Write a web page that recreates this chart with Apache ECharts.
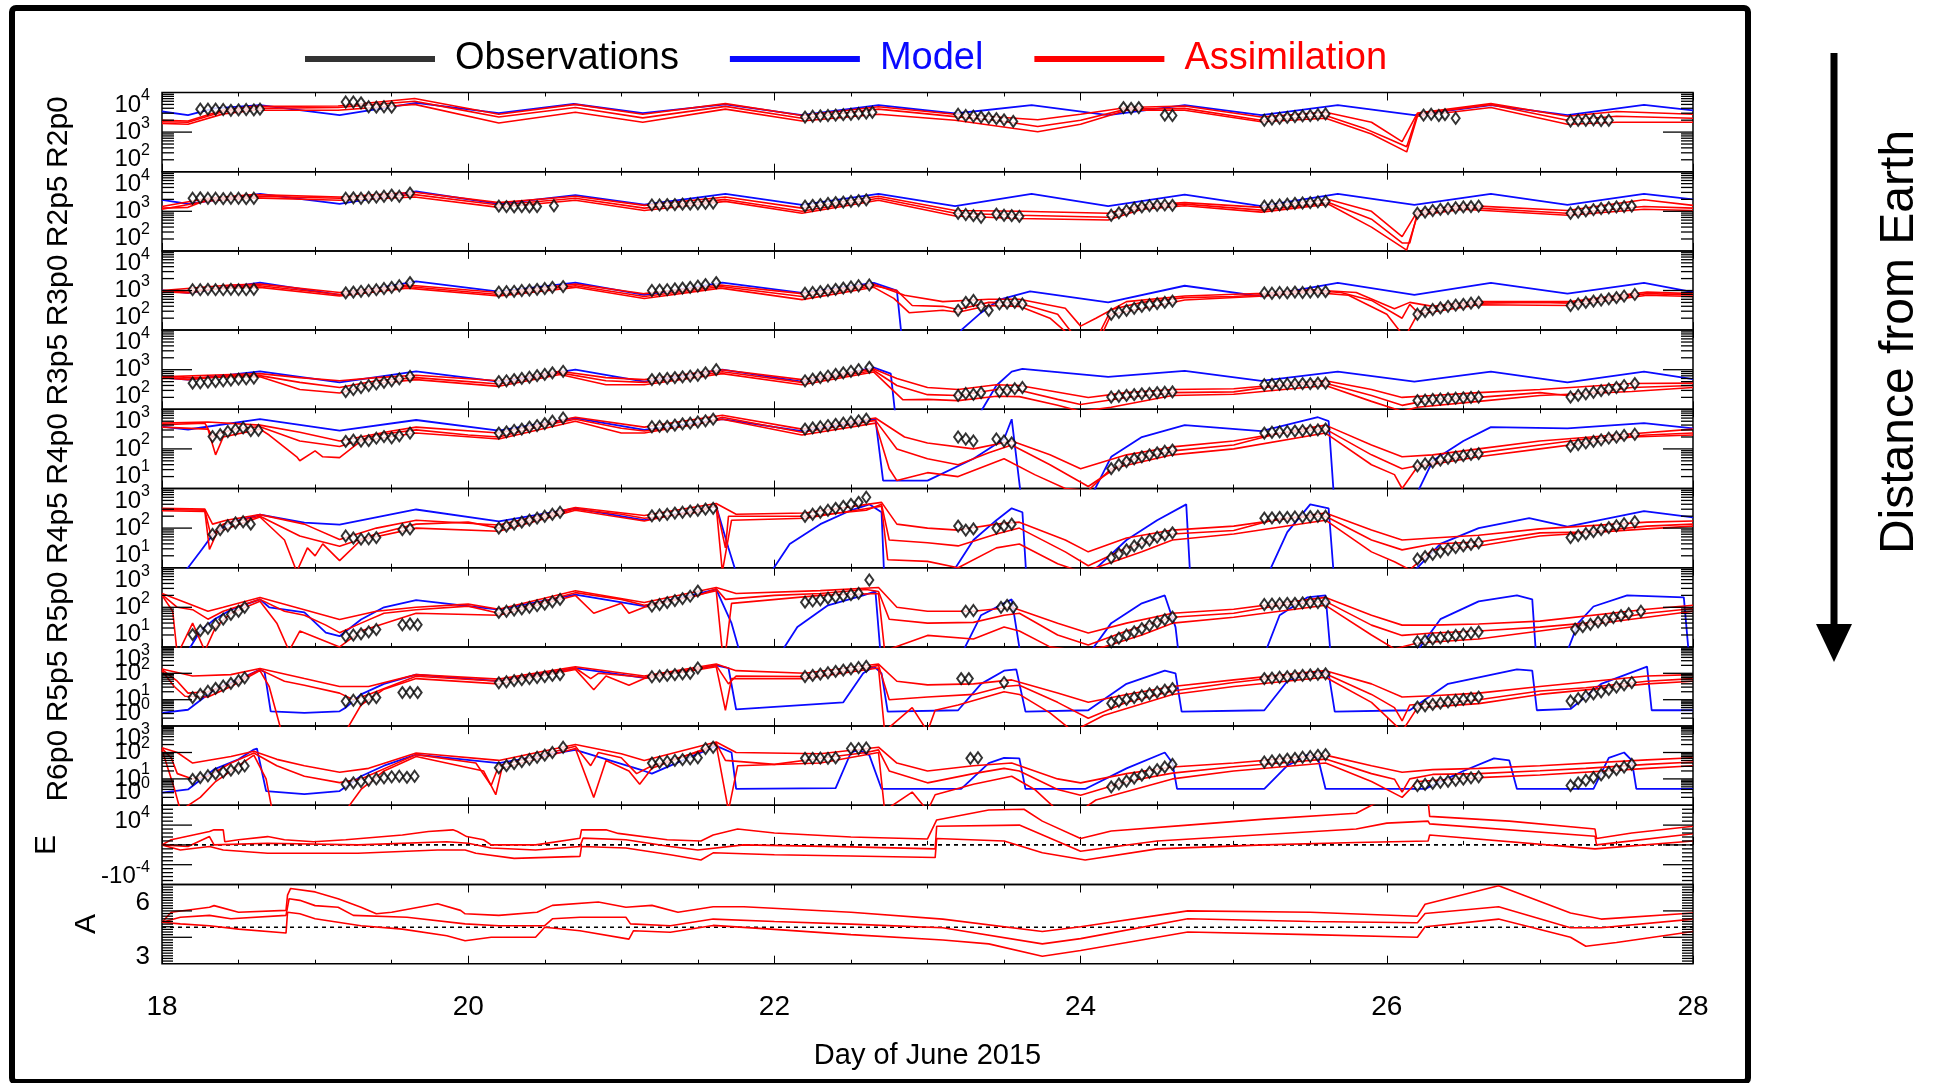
<!DOCTYPE html>
<html>
<head>
<meta charset="utf-8">
<title>Observations / Model / Assimilation</title>
<script src="https://cdn.jsdelivr.net/npm/echarts/dist/echarts.min.js"></script>
<style>
  html, body { margin: 0; padding: 0; background: #fff; }
  #chart { width: 1934px; height: 1083px; }
</style>
</head>
<body>
<div id="chart"></div>
<script>
// time axis (day of June 2015)
const dayMin = 18, dayMax = 28;

// flux panels: values are log10 of the flux
const R2p0_model = [[18,3.52],[18.17,3.43],[18.34,3.6],[18.64,3.68],[19.16,3.43],[19.66,3.74],[20.2,3.48],[20.69,3.71],[21.14,3.48],[21.68,3.7],[22.18,3.43],[22.68,3.68],[23.18,3.47],[23.68,3.68],[24.18,3.43],[24.68,3.68],[25.18,3.43],[25.68,3.68],[26.18,3.43],[26.68,3.68],[27.18,3.43],[27.68,3.69],[28,3.55]];
const R2p0_mid = [[18,3.26],[18.17,3.25],[18.4,3.52],[18.6,3.6],[19.15,3.62],[19.4,3.7],[19.65,3.78],[19.9,3.6],[20.2,3.38],[20.7,3.62],[21.14,3.36],[21.68,3.65],[22.18,3.35],[22.68,3.58],[23.18,3.39],[23.45,3.3],[23.72,3.14],[24.0,3.3],[24.3,3.58],[24.68,3.6],[25.18,3.3],[25.6,3.42],[25.85,3.1],[26.0,2.85],[26.13,2.63],[26.2,3.45],[26.68,3.69],[27.18,3.3],[27.5,3.4],[28,3.35]];
const R2p0_hi = [[18,3.3],[18.17,3.28],[18.4,3.56],[18.6,3.65],[19.15,3.66],[19.65,3.85],[20.2,3.45],[20.7,3.7],[21.14,3.45],[21.68,3.72],[22.18,3.42],[22.68,3.64],[23.18,3.45],[23.72,3.31],[24.0,3.45],[24.3,3.62],[24.68,3.66],[25.18,3.38],[25.6,3.5],[25.9,3.25],[26.1,2.76],[26.2,3.48],[26.68,3.72],[27.18,3.4],[27.5,3.52],[28,3.45]];
const R2p0_lo = [[18,3.22],[18.17,3.2],[18.4,3.46],[18.6,3.55],[19.15,3.55],[19.65,3.7],[20.2,3.23],[20.7,3.5],[21.14,3.25],[21.68,3.58],[22.18,3.28],[22.68,3.45],[23.18,3.3],[23.72,3.01],[24.0,3.2],[24.3,3.55],[24.68,3.55],[25.18,3.26],[25.6,3.35],[25.9,2.95],[26.13,2.5],[26.2,3.4],[26.68,3.62],[27.18,3.2],[27.5,3.25],[28,3.25]];
const R2p0_obs = [[18.25,3.58],[18.3,3.58],[18.35,3.58],[18.4,3.57],[18.45,3.55],[18.5,3.56],[18.55,3.57],[18.6,3.56],[18.64,3.58],
  [19.2,3.76],[19.25,3.76],[19.3,3.74],[19.35,3.64],[19.4,3.63],[19.45,3.64],[19.5,3.63],
  [22.2,3.38],[22.25,3.4],[22.3,3.41],[22.35,3.42],[22.4,3.43],[22.45,3.44],[22.5,3.45],[22.55,3.47],[22.6,3.48],[22.64,3.5],
  [23.2,3.45],[23.25,3.42],[23.3,3.4],[23.35,3.38],[23.4,3.36],[23.45,3.34],[23.5,3.31],[23.56,3.27],
  [24.28,3.62],[24.33,3.6],[24.38,3.62],[24.55,3.43],[24.6,3.42],
  [25.2,3.3],[25.25,3.33],[25.3,3.35],[25.35,3.37],[25.4,3.39],[25.45,3.41],[25.5,3.42],[25.55,3.44],[25.6,3.46],
  [26.24,3.43],[26.29,3.45],[26.34,3.42],[26.38,3.44],[26.45,3.35],
  [27.2,3.28],[27.25,3.3],[27.3,3.3],[27.35,3.31],[27.4,3.29],[27.45,3.3]];

const R2p5_model = [[18,3.29],[18.17,3.19],[18.64,3.44],[19.16,3.19],[19.66,3.5],[20.2,3.19],[20.7,3.41],[21.15,3.17],[21.68,3.44],[22.18,3.16],[22.68,3.44],[23.18,3.13],[23.68,3.44],[24.18,3.13],[24.68,3.42],[25.18,3.13],[25.68,3.44],[26.18,3.16],[26.68,3.44],[27.18,3.16],[27.68,3.44],[28,3.3]];
const R2p5_mid = [[18,3.08],[18.17,3.1],[18.3,3.3],[18.6,3.38],[19.16,3.33],[19.65,3.42],[20.2,3.16],[20.7,3.33],[21.15,3.08],[21.68,3.3],[22.18,3.0],[22.68,3.33],[23.18,2.95],[23.6,2.9],[24.18,2.85],[24.4,3.1],[24.68,3.18],[25.18,3.03],[25.62,3.22],[25.9,2.8],[26.1,2.2],[26.15,2.2],[26.2,2.95],[26.5,3.1],[27.18,2.95],[27.68,3.12],[28,3.08]];
const R2p5_hi = [[18,3.12],[18.3,3.33],[18.6,3.42],[19.16,3.36],[19.65,3.48],[20.2,3.22],[20.7,3.38],[21.15,3.15],[21.68,3.36],[22.18,3.08],[22.68,3.38],[23.18,3.02],[23.6,3.0],[24.18,2.95],[24.4,3.15],[24.68,3.22],[25.18,3.1],[25.62,3.3],[25.9,3.0],[26.1,2.36],[26.2,3.0],[26.5,3.15],[27.18,3.02],[27.68,3.29],[28,3.15]];
const R2p5_lo = [[18,3.05],[18.3,3.26],[18.6,3.34],[19.16,3.28],[19.65,3.36],[20.2,3.1],[20.7,3.28],[21.15,3.02],[21.68,3.25],[22.18,2.95],[22.68,3.28],[23.18,2.88],[23.6,2.82],[24.18,2.78],[24.4,3.05],[24.68,3.14],[25.18,2.98],[25.62,3.18],[25.9,2.6],[26.13,2.02],[26.2,2.9],[26.5,3.05],[27.18,2.9],[27.68,3.05],[28,3.02]];
const R2p5_obs = [[18.2,3.33],[18.25,3.34],[18.3,3.33],[18.35,3.33],[18.4,3.32],[18.45,3.33],[18.5,3.33],[18.55,3.32],[18.6,3.33],
  [19.2,3.33],[19.25,3.34],[19.3,3.33],[19.35,3.35],[19.4,3.36],[19.45,3.38],[19.5,3.41],[19.55,3.38],[19.62,3.46],
  [20.2,3.13],[20.25,3.12],[20.3,3.11],[20.35,3.12],[20.4,3.11],[20.45,3.12],[20.56,3.14],
  [21.2,3.16],[21.25,3.16],[21.3,3.17],[21.35,3.17],[21.4,3.18],[21.45,3.18],[21.5,3.19],[21.55,3.2],[21.6,3.21],
  [22.2,3.13],[22.25,3.15],[22.3,3.17],[22.35,3.2],[22.4,3.22],[22.45,3.23],[22.5,3.25],[22.55,3.27],[22.6,3.29],
  [23.2,2.95],[23.25,2.92],[23.3,2.89],[23.35,2.85],[23.45,2.93],[23.5,2.9],[23.55,2.89],[23.6,2.87],
  [24.2,2.9],[24.25,2.96],[24.3,3.02],[24.35,3.08],[24.4,3.11],[24.45,3.14],[24.5,3.15],[24.55,3.16],[24.6,3.15],
  [25.2,3.13],[25.25,3.14],[25.3,3.16],[25.35,3.18],[25.4,3.2],[25.45,3.21],[25.5,3.22],[25.55,3.24],[25.6,3.25],
  [26.2,2.95],[26.25,2.98],[26.3,3.02],[26.35,3.05],[26.4,3.07],[26.45,3.09],[26.5,3.11],[26.55,3.12],[26.6,3.13],
  [27.2,2.95],[27.25,2.98],[27.3,3.01],[27.35,3.04],[27.4,3.07],[27.45,3.09],[27.5,3.11],[27.55,3.12],[27.6,3.13]];

const R3p0_model = [[18,3.0],[18.17,2.94],[18.64,3.2],[19.16,2.89],[19.66,3.23],[20.2,2.97],[20.7,3.2],[21.15,2.89],[21.66,3.2],[22.18,2.94],[22.65,3.19],[22.8,3.0],[22.84,1.5],[23.2,1.5],[23.22,2.0],[23.35,2.44],[23.47,2.77],[23.67,2.98],[24.18,2.7],[24.68,3.12],[25.18,2.85],[25.68,3.19],[26.18,2.89],[26.68,3.19],[27.18,2.92],[27.68,3.19],[28,2.96]];
const R3p0_mid = [[18,2.97],[18.17,2.94],[18.45,3.1],[18.64,3.12],[19.16,2.9],[19.6,3.1],[20.2,2.9],[20.7,3.12],[21.15,2.85],[21.65,3.1],[22.18,2.85],[22.65,3.12],[22.8,3.0],[22.9,2.62],[23.1,2.6],[23.2,2.52],[23.4,2.7],[23.6,2.68],[23.85,2.4],[23.95,1.9],[24.12,1.9],[24.2,2.52],[24.4,2.7],[24.68,2.82],[25.0,2.85],[25.2,2.9],[25.5,3.0],[25.7,2.95],[25.9,2.75],[26.1,2.3],[26.15,2.65],[26.2,2.45],[26.3,2.55],[26.6,2.68],[27.0,2.7],[27.2,2.68],[27.5,2.82],[27.7,2.92],[28,2.89]];
const R3p0_hi = [[18,3.0],[18.45,3.14],[18.64,3.16],[19.16,2.95],[19.6,3.14],[20.2,2.95],[20.7,3.16],[21.15,2.92],[21.65,3.14],[22.18,2.92],[22.65,3.16],[22.85,2.88],[23.1,2.72],[23.4,2.78],[23.6,2.78],[23.9,2.55],[24.0,2.1],[24.1,2.3],[24.3,2.72],[24.68,2.86],[25.2,2.93],[25.5,3.02],[25.8,2.95],[26.05,2.54],[26.15,2.7],[26.3,2.6],[26.6,2.72],[27.2,2.72],[27.7,2.96],[28,2.92]];
const R3p0_lo = [[18,2.95],[18.45,3.06],[18.64,3.08],[19.16,2.86],[19.6,3.06],[20.2,2.86],[20.7,3.08],[21.15,2.8],[21.65,3.06],[22.18,2.77],[22.65,3.08],[22.78,2.8],[22.88,2.44],[23.1,2.5],[23.2,2.45],[23.4,2.62],[23.6,2.6],[23.8,2.3],[23.92,1.9],[24.14,1.9],[24.2,2.4],[24.5,2.62],[24.68,2.76],[25.2,2.86],[25.5,2.96],[25.75,2.88],[26.0,2.4],[26.1,1.9],[26.13,1.9],[26.2,2.4],[26.6,2.64],[27.2,2.62],[27.7,2.88],[28,2.85]];
const R3p0_obs = [[18.2,3.02],[18.25,3.02],[18.3,3.03],[18.35,3.02],[18.4,3.02],[18.45,3.03],[18.5,3.02],[18.55,3.02],[18.6,3.03],
  [19.2,2.94],[19.25,2.96],[19.3,2.98],[19.35,3.0],[19.4,3.02],[19.45,3.05],[19.5,3.08],[19.55,3.12],[19.62,3.2],
  [20.2,2.96],[20.25,2.97],[20.3,2.98],[20.35,3.0],[20.4,3.01],[20.45,3.03],[20.5,3.05],[20.55,3.08],[20.62,3.1],
  [21.2,3.0],[21.25,3.01],[21.3,3.02],[21.35,3.04],[21.4,3.06],[21.45,3.08],[21.5,3.11],[21.55,3.15],[21.62,3.2],
  [22.2,2.93],[22.25,2.95],[22.3,2.97],[22.35,3.0],[22.4,3.03],[22.45,3.06],[22.5,3.09],[22.55,3.12],[22.62,3.14],
  [23.2,2.5],[23.25,2.7],[23.3,2.75],[23.35,2.6],[23.4,2.5],[23.47,2.66],[23.52,2.68],[23.57,2.7],[23.62,2.66],
  [24.2,2.4],[24.25,2.45],[24.3,2.5],[24.35,2.55],[24.4,2.6],[24.45,2.64],[24.5,2.67],[24.55,2.7],[24.6,2.73],
  [25.2,2.94],[25.25,2.93],[25.3,2.95],[25.35,2.94],[25.4,2.96],[25.45,2.95],[25.5,2.96],[25.55,2.97],[25.6,2.97],
  [26.2,2.4],[26.25,2.47],[26.3,2.52],[26.35,2.56],[26.4,2.6],[26.45,2.63],[26.5,2.65],[26.55,2.68],[26.6,2.7],
  [27.2,2.62],[27.25,2.66],[27.3,2.7],[27.35,2.73],[27.4,2.76],[27.45,2.79],[27.5,2.82],[27.55,2.86],[27.62,2.9]];

const R3p5_model = [[18,2.8],[18.17,2.75],[18.64,2.96],[19.16,2.68],[19.66,2.96],[20.2,2.7],[20.7,3.0],[21.15,2.7],[21.66,3.0],[22.18,2.7],[22.65,3.05],[22.76,2.9],[22.8,1.5],[23.33,1.5],[23.35,1.95],[23.45,2.6],[23.55,2.95],[23.62,3.02],[24.18,2.82],[24.68,2.97],[25.18,2.72],[25.68,2.95],[26.18,2.7],[26.68,2.95],[27.18,2.68],[27.68,2.95],[28,2.76]];
const R3p5_mid = [[18,2.8],[18.17,2.75],[18.45,2.85],[18.64,2.85],[18.9,2.68],[19.16,2.55],[19.4,2.72],[19.66,2.8],[20.0,2.7],[20.2,2.64],[20.6,2.92],[20.9,2.72],[21.15,2.68],[21.4,2.8],[21.66,2.95],[22.18,2.68],[22.65,2.98],[22.8,2.6],[23.0,2.37],[23.2,2.35],[23.45,2.5],[23.6,2.48],[23.85,2.25],[24.0,2.12],[24.3,2.3],[24.6,2.42],[25.0,2.44],[25.3,2.6],[25.6,2.66],[25.9,2.35],[26.1,2.1],[26.3,2.25],[26.6,2.3],[27.0,2.42],[27.18,2.35],[27.6,2.55],[28,2.6]];
const R3p5_hi = [[18,2.82],[18.45,2.88],[18.64,2.9],[18.9,2.8],[19.16,2.72],[19.4,2.8],[19.66,2.86],[20.2,2.72],[20.6,2.96],[20.9,2.8],[21.15,2.75],[21.66,3.0],[22.18,2.75],[22.65,3.02],[22.8,2.78],[23.0,2.55],[23.2,2.5],[23.45,2.62],[23.6,2.6],[23.9,2.4],[24.05,2.3],[24.3,2.42],[24.6,2.5],[25.0,2.52],[25.6,2.72],[25.9,2.5],[26.1,2.3],[26.3,2.35],[26.6,2.42],[27.0,2.5],[27.6,2.65],[28,2.66]];
const R3p5_lo = [[18,2.78],[18.45,2.82],[18.64,2.82],[18.9,2.5],[19.16,2.41],[19.4,2.65],[19.66,2.75],[20.2,2.58],[20.6,2.88],[20.9,2.62],[21.15,2.62],[21.66,2.9],[22.18,2.62],[22.65,2.94],[22.84,2.24],[23.0,2.25],[23.2,2.22],[23.45,2.33],[23.6,2.32],[23.85,2.1],[24.0,1.95],[24.2,2.05],[24.6,2.35],[25.0,2.38],[25.6,2.6],[25.9,2.2],[26.1,1.95],[26.2,2.05],[26.6,2.2],[27.0,2.35],[27.6,2.45],[28,2.55]];
const R3p5_obs = [[18.2,2.66],[18.25,2.67],[18.3,2.69],[18.35,2.7],[18.4,2.72],[18.45,2.74],[18.5,2.76],[18.55,2.77],[18.6,2.79],
  [19.2,2.45],[19.25,2.5],[19.3,2.55],[19.35,2.6],[19.4,2.64],[19.45,2.68],[19.5,2.72],[19.55,2.77],[19.62,2.83],
  [20.2,2.7],[20.25,2.72],[20.3,2.75],[20.35,2.78],[20.4,2.81],[20.45,2.85],[20.5,2.88],[20.55,2.92],[20.62,2.96],
  [21.2,2.75],[21.25,2.77],[21.3,2.78],[21.35,2.8],[21.4,2.82],[21.45,2.84],[21.5,2.86],[21.55,2.92],[21.62,3.0],
  [22.2,2.72],[22.25,2.76],[22.3,2.8],[22.35,2.84],[22.4,2.88],[22.45,2.92],[22.5,2.96],[22.55,3.0],[22.62,3.06],
  [23.2,2.35],[23.25,2.4],[23.3,2.38],[23.35,2.42],[23.47,2.45],[23.52,2.48],[23.57,2.52],[23.62,2.55],
  [24.2,2.31],[24.25,2.33],[24.3,2.35],[24.35,2.37],[24.4,2.39],[24.45,2.4],[24.5,2.42],[24.55,2.43],[24.6,2.44],
  [25.2,2.62],[25.25,2.63],[25.3,2.63],[25.35,2.64],[25.4,2.64],[25.45,2.65],[25.5,2.65],[25.55,2.66],[25.6,2.66],
  [26.2,2.22],[26.25,2.23],[26.3,2.25],[26.35,2.26],[26.4,2.27],[26.45,2.28],[26.5,2.29],[26.55,2.3],[26.6,2.31],
  [27.2,2.31],[27.25,2.35],[27.3,2.39],[27.35,2.43],[27.4,2.47],[27.45,2.51],[27.5,2.55],[27.55,2.6],[27.62,2.65]];

const R4p0_model = [[18,2.56],[18.17,2.49],[18.64,2.75],[19.16,2.46],[19.66,2.73],[20.2,2.46],[20.7,2.78],[21.15,2.48],[21.66,2.75],[22.18,2.45],[22.66,2.75],[22.71,1.2],[23.0,1.2],[23.3,1.75],[23.5,2.25],[23.55,2.75],[23.62,0.5],[24.03,0.5],[24.2,1.8],[24.4,2.3],[24.68,2.6],[25.18,2.45],[25.55,2.8],[25.62,2.7],[25.66,0.5],[26.15,0.5],[26.3,1.7],[26.5,2.2],[26.68,2.55],[27.18,2.52],[27.68,2.65],[28,2.52]];
const R4p0_mid = [[18,2.61],[18.28,2.65],[18.33,2.3],[18.38,2.4],[18.5,2.52],[18.64,2.56],[18.9,2.2],[19.16,2.06],[19.4,2.35],[19.66,2.48],[20.0,2.35],[20.2,2.3],[20.5,2.6],[20.7,2.75],[21.0,2.52],[21.15,2.45],[21.5,2.62],[21.66,2.8],[22.18,2.42],[22.66,2.72],[22.8,2.0],[23.0,1.75],[23.2,1.6],[23.4,1.9],[23.55,2.1],[23.8,1.6],[24.05,1.05],[24.3,1.7],[24.6,1.95],[25.0,2.1],[25.3,2.4],[25.6,2.5],[25.9,1.85],[26.1,1.5],[26.3,1.65],[26.6,1.9],[27.0,2.1],[27.3,2.25],[27.7,2.35],[28,2.4]];
const R4p0_hi = [[18,2.65],[18.3,2.68],[18.64,2.6],[18.9,2.42],[19.16,2.2],[19.5,2.45],[19.66,2.55],[20.2,2.4],[20.7,2.8],[21.15,2.55],[21.66,2.85],[22.18,2.5],[22.66,2.78],[22.85,2.3],[23.0,2.15],[23.3,2.0],[23.55,2.2],[23.8,1.85],[24.0,1.5],[24.3,1.85],[24.6,2.05],[25.0,2.2],[25.6,2.6],[25.9,2.1],[26.1,1.8],[26.3,1.85],[26.6,2.0],[27.0,2.2],[27.5,2.35],[28,2.5]];
const R4p0_lo = [[18,2.55],[18.3,2.5],[18.35,1.85],[18.4,2.3],[18.64,2.5],[18.7,2.35],[18.88,1.8],[18.9,1.7],[19.0,1.95],[19.05,1.8],[19.16,1.78],[19.3,2.2],[19.66,2.4],[20.2,2.25],[20.7,2.7],[21.0,2.4],[21.15,2.4],[21.66,2.75],[22.18,2.35],[22.66,2.65],[22.75,1.5],[22.8,1.2],[23.0,1.4],[23.2,1.3],[23.5,1.75],[23.7,1.35],[23.9,1.0],[24.05,0.95],[24.2,1.5],[24.6,1.85],[25.0,2.0],[25.6,2.4],[25.9,1.6],[26.05,1.35],[26.1,1.0],[26.2,1.55],[26.6,1.8],[27.0,2.0],[27.6,2.3],[28,2.35]];
const R4p0_obs = [[18.33,2.31],[18.38,2.36],[18.43,2.44],[18.48,2.49],[18.53,2.53],[18.58,2.46],[18.63,2.47],
  [19.2,2.19],[19.25,2.22],[19.3,2.2],[19.35,2.21],[19.4,2.27],[19.45,2.31],[19.5,2.28],[19.55,2.33],[19.62,2.4],
  [20.2,2.4],[20.25,2.43],[20.3,2.47],[20.35,2.5],[20.4,2.55],[20.45,2.59],[20.5,2.64],[20.55,2.7],[20.62,2.78],
  [21.2,2.56],[21.25,2.57],[21.3,2.57],[21.35,2.6],[21.4,2.63],[21.45,2.65],[21.5,2.68],[21.55,2.71],[21.6,2.75],
  [22.2,2.5],[22.25,2.53],[22.3,2.56],[22.35,2.59],[22.4,2.62],[22.45,2.65],[22.5,2.68],[22.55,2.71],[22.6,2.75],
  [23.2,2.3],[23.25,2.25],[23.3,2.2],[23.45,2.25],[23.5,2.2],[23.55,2.15],
  [24.2,1.5],[24.25,1.6],[24.3,1.68],[24.35,1.75],[24.4,1.8],[24.45,1.85],[24.5,1.9],[24.55,1.94],[24.6,1.97],
  [25.2,2.4],[25.25,2.42],[25.3,2.43],[25.35,2.44],[25.4,2.45],[25.45,2.46],[25.5,2.47],[25.55,2.48],[25.6,2.5],
  [26.2,1.57],[26.25,1.62],[26.3,1.67],[26.35,1.72],[26.4,1.76],[26.45,1.8],[26.5,1.83],[26.55,1.86],[26.6,1.88],
  [27.2,2.07],[27.25,2.11],[27.3,2.15],[27.35,2.19],[27.4,2.23],[27.45,2.27],[27.5,2.3],[27.55,2.34],[27.62,2.37]];

const R4p5_model = [[18,0.5],[18.17,1.0],[18.26,1.46],[18.34,1.88],[18.45,2.14],[18.64,2.34],[18.93,2.14],[19.16,2.09],[19.66,2.47],[20.2,2.17],[20.7,2.5],[21.15,2.2],[21.62,2.55],[21.7,1.5],[21.78,0.5],[21.98,0.9],[22.1,1.6],[22.3,2.1],[22.5,2.45],[22.62,2.6],[22.7,2.4],[22.72,0.5],[23.15,0.8],[23.3,1.7],[23.45,2.2],[23.55,2.5],[23.62,2.4],[23.65,0.5],[24.05,0.8],[24.3,1.7],[24.5,2.2],[24.69,2.6],[24.72,0.5],[25.22,0.8],[25.35,1.9],[25.5,2.6],[25.62,2.5],[25.66,0.5],[26.15,0.8],[26.35,1.6],[26.6,2.0],[26.93,2.25],[27.18,2.04],[27.68,2.43],[28,2.27]];
const R4p5_mid = [[18,2.47],[18.28,2.45],[18.32,1.8],[18.4,2.1],[18.64,2.3],[18.9,1.8],[19.0,1.7],[19.16,1.54],[19.4,1.85],[19.66,2.1],[20.0,2.15],[20.2,2.0],[20.7,2.48],[21.0,2.35],[21.15,2.25],[21.5,2.4],[21.62,2.58],[21.68,1.5],[21.7,2.3],[22.2,2.3],[22.6,2.45],[22.7,2.6],[22.75,1.7],[23.0,1.63],[23.2,1.55],[23.45,1.85],[23.6,2.0],[23.9,1.4],[24.05,1.05],[24.3,1.5],[24.6,1.85],[25.0,1.94],[25.3,2.25],[25.6,2.3],[25.9,1.7],[26.1,1.45],[26.3,1.6],[26.6,1.65],[27.0,1.88],[27.3,1.9],[27.7,2.05],[28,2.1]];
const R4p5_hi = [[18,2.5],[18.28,2.48],[18.33,2.1],[18.42,2.2],[18.64,2.34],[18.93,2.1],[19.16,1.71],[19.4,2.0],[19.66,2.2],[20.2,2.08],[20.7,2.52],[21.15,2.32],[21.62,2.62],[21.75,2.35],[22.2,2.38],[22.7,2.65],[22.8,2.1],[23.0,2.0],[23.2,1.95],[23.45,2.1],[23.6,2.15],[23.9,1.7],[24.05,1.4],[24.3,1.75],[24.6,1.95],[25.0,2.05],[25.6,2.38],[25.9,1.95],[26.1,1.7],[26.3,1.75],[26.6,1.82],[27.0,1.98],[27.7,2.15],[28,2.18]];
const R4p5_lo = [[18,2.44],[18.28,2.42],[18.31,1.46],[18.36,1.9],[18.64,2.28],[18.8,1.7],[18.88,0.9],[18.95,1.5],[19.0,1.3],[19.05,1.6],[19.16,1.18],[19.3,1.7],[19.66,2.0],[20.2,1.92],[20.7,2.45],[21.15,2.18],[21.62,2.55],[21.66,0.9],[21.72,2.2],[22.2,2.25],[22.7,2.55],[22.74,1.2],[23.0,1.16],[23.2,1.0],[23.45,1.5],[23.6,1.6],[23.85,1.1],[24.0,0.9],[24.1,1.0],[24.4,1.4],[24.6,1.7],[25.0,1.85],[25.6,2.2],[25.9,1.4],[26.05,1.15],[26.15,0.95],[26.3,1.45],[26.6,1.55],[27.0,1.8],[27.7,1.98],[28,2.05]];
const R4p5_obs = [[18.33,1.84],[18.38,1.96],[18.43,2.06],[18.48,2.13],[18.53,2.16],[18.58,2.1],
  [19.2,1.8],[19.25,1.75],[19.3,1.72],[19.35,1.73],[19.4,1.76],[19.57,1.96],[19.62,1.98],
  [20.2,2.0],[20.25,2.05],[20.3,2.1],[20.35,2.15],[20.4,2.2],[20.45,2.25],[20.5,2.3],[20.55,2.35],[20.6,2.4],
  [21.2,2.31],[21.25,2.33],[21.3,2.35],[21.35,2.38],[21.4,2.4],[21.45,2.43],[21.5,2.45],[21.55,2.48],[21.6,2.5],
  [22.2,2.3],[22.25,2.35],[22.3,2.4],[22.35,2.45],[22.4,2.5],[22.45,2.55],[22.5,2.6],[22.55,2.65],[22.6,2.78],
  [23.2,2.05],[23.25,1.95],[23.3,1.98],[23.45,2.0],[23.5,2.05],[23.55,2.1],
  [24.2,1.25],[24.25,1.35],[24.3,1.45],[24.35,1.55],[24.4,1.63],[24.45,1.7],[24.5,1.77],[24.55,1.83],[24.6,1.88],
  [25.2,2.25],[25.25,2.26],[25.3,2.27],[25.35,2.27],[25.4,2.28],[25.45,2.28],[25.5,2.29],[25.55,2.3],[25.6,2.3],
  [26.2,1.22],[26.25,1.28],[26.3,1.34],[26.35,1.4],[26.4,1.46],[26.45,1.51],[26.5,1.55],[26.55,1.59],[26.6,1.63],
  [27.2,1.76],[27.25,1.81],[27.3,1.86],[27.35,1.91],[27.4,1.96],[27.45,2.01],[27.5,2.06],[27.55,2.11],[27.62,2.16]];

const R5p0_model = [[18,0.5],[18.17,0.9],[18.25,1.4],[18.34,1.69],[18.45,1.94],[18.64,2.2],[18.7,2.0],[18.93,1.87],[19.07,1.36],[19.16,1.27],[19.3,1.69],[19.45,2.0],[19.66,2.18],[20.2,1.94],[20.7,2.32],[21.15,2.03],[21.62,2.45],[21.72,1.6],[21.8,0.5],[22.0,0.6],[22.15,1.5],[22.35,2.05],[22.58,2.3],[22.66,2.4],[22.7,0.5],[23.22,0.8],[23.35,1.8],[23.5,2.1],[23.55,2.2],[23.62,0.5],[24.05,0.8],[24.2,1.6],[24.4,2.1],[24.55,2.3],[24.62,1.5],[24.65,0.5],[25.2,0.8],[25.3,1.8],[25.48,2.25],[25.6,2.3],[25.64,0.5],[26.18,0.8],[26.35,1.7],[26.6,2.15],[26.85,2.3],[26.95,2.2],[26.98,0.5],[27.17,0.8],[27.25,1.6],[27.35,2.02],[27.57,2.3],[27.94,2.25],[27.98,0.5],[28,0.5]];
const R5p0_mid = [[18,2.32],[18.1,2.0],[18.2,1.94],[18.3,1.7],[18.4,1.9],[18.64,2.2],[18.8,1.9],[18.93,1.8],[19.07,1.55],[19.16,1.36],[19.3,1.6],[19.45,1.85],[19.66,1.94],[20.0,2.03],[20.2,1.85],[20.7,2.37],[21.0,2.2],[21.15,2.05],[21.5,2.3],[21.62,2.47],[21.68,2.2],[22.0,2.3],[22.3,2.35],[22.6,2.45],[22.68,2.4],[22.75,1.7],[23.0,1.6],[23.3,1.62],[23.5,1.8],[23.6,1.85],[23.85,1.3],[24.05,1.05],[24.3,1.4],[24.6,1.75],[25.0,1.85],[25.3,2.05],[25.6,2.15],[25.9,1.55],[26.1,1.29],[26.3,1.35],[26.6,1.4],[27.0,1.5],[27.3,1.6],[27.7,1.85],[28,1.97]];
const R5p0_hi = [[18,2.35],[18.2,2.05],[18.3,1.9],[18.4,2.0],[18.64,2.25],[18.93,1.94],[19.16,1.69],[19.4,1.9],[19.66,2.0],[20.0,2.08],[20.2,1.95],[20.7,2.42],[21.15,2.12],[21.62,2.5],[21.75,2.35],[22.3,2.42],[22.68,2.5],[22.8,2.0],[23.0,1.9],[23.3,1.9],[23.55,2.0],[23.85,1.6],[24.05,1.35],[24.3,1.6],[24.6,1.85],[25.0,1.95],[25.6,2.25],[25.9,1.8],[26.1,1.55],[26.3,1.55],[26.6,1.58],[27.0,1.65],[27.7,1.95],[28,2.05]];
const R5p0_lo = [[18,2.3],[18.07,1.9],[18.1,0.8],[18.2,1.6],[18.28,0.9],[18.35,1.5],[18.45,1.85],[18.64,2.15],[18.75,1.6],[18.83,0.9],[18.9,1.4],[19.16,1.0],[19.3,1.4],[19.66,1.85],[20.2,1.8],[20.7,2.3],[20.82,1.85],[21.0,2.1],[21.05,1.85],[21.15,2.0],[21.62,2.42],[21.67,0.5],[21.72,2.1],[22.3,2.3],[22.68,2.35],[22.72,0.9],[23.0,1.29],[23.3,1.2],[23.5,1.5],[23.6,1.4],[23.8,1.0],[24.0,0.9],[24.15,1.0],[24.4,1.3],[24.6,1.6],[25.0,1.75],[25.6,2.05],[25.9,1.3],[26.05,0.95],[26.2,1.1],[26.6,1.2],[27.0,1.4],[27.7,1.75],[28,1.9]];
const R5p0_obs = [[18.2,1.31],[18.25,1.41],[18.3,1.47],[18.35,1.56],[18.4,1.7],[18.45,1.82],[18.5,1.9],[18.54,2.0],
  [19.2,1.27],[19.25,1.3],[19.3,1.33],[19.35,1.38],[19.4,1.44],[19.57,1.56],[19.62,1.58],[19.67,1.56],
  [20.2,1.87],[20.25,1.9],[20.3,1.93],[20.35,1.96],[20.4,2.0],[20.45,2.04],[20.5,2.08],[20.55,2.14],[20.6,2.2],
  [21.2,2.03],[21.25,2.07],[21.3,2.12],[21.35,2.17],[21.4,2.22],[21.45,2.28],[21.5,2.41],
  [22.2,2.13],[22.25,2.16],[22.3,2.19],[22.35,2.23],[22.4,2.26],[22.45,2.29],[22.5,2.32],[22.55,2.35],[22.62,2.69],
  [23.25,1.9],[23.3,1.92],[23.48,2.0],[23.52,2.05],[23.56,2.0],
  [24.2,1.13],[24.25,1.22],[24.3,1.3],[24.35,1.38],[24.4,1.46],[24.45,1.54],[24.5,1.62],[24.55,1.69],[24.6,1.75],
  [25.2,2.07],[25.25,2.08],[25.3,2.09],[25.35,2.1],[25.4,2.1],[25.45,2.11],[25.5,2.12],[25.55,2.12],[25.6,2.13],
  [26.2,1.13],[26.25,1.16],[26.3,1.2],[26.35,1.23],[26.4,1.26],[26.45,1.29],[26.5,1.32],[26.55,1.35],[26.6,1.38],
  [27.23,1.45],[27.28,1.51],[27.33,1.57],[27.38,1.63],[27.43,1.68],[27.48,1.74],[27.53,1.79],[27.58,1.84],[27.66,1.9]];

const R5p5_model = [[18,0.5],[18.17,0.62],[18.34,1.38],[18.5,1.76],[18.64,2.14],[18.67,2.05],[18.71,0.56],[18.93,0.5],[19.16,0.56],[19.2,0.7],[19.3,1.2],[19.45,1.6],[19.66,1.95],[20.2,1.7],[20.7,2.2],[21.15,1.83],[21.62,2.3],[21.7,2.2],[21.75,0.63],[22.45,0.9],[22.58,2.0],[22.65,2.26],[22.7,2.0],[22.74,0.55],[23.2,0.6],[23.35,1.6],[23.5,2.1],[23.58,2.15],[23.64,0.55],[24.05,0.6],[24.3,1.6],[24.55,2.1],[24.62,2.0],[24.66,0.55],[25.2,0.6],[25.35,1.7],[25.5,2.05],[25.62,2.0],[25.66,0.55],[26.15,0.6],[26.4,1.6],[26.85,2.15],[26.95,2.1],[26.98,0.6],[27.2,0.65],[27.4,1.6],[27.7,2.25],[27.73,0.6],[28,0.6]];
const R5p5_mid = [[18,2.14],[18.1,1.7],[18.17,1.25],[18.3,1.3],[18.45,1.6],[18.64,2.14],[18.8,1.7],[18.93,1.55],[19.16,1.25],[19.25,1.0],[19.35,1.2],[19.66,1.89],[20.2,1.7],[20.7,2.2],[20.8,1.8],[20.85,2.0],[21.15,1.85],[21.62,2.3],[21.7,1.6],[21.75,1.9],[22.2,1.88],[22.6,2.2],[22.68,2.3],[22.75,1.0],[23.0,1.1],[23.3,1.2],[23.5,1.5],[23.6,1.55],[23.85,0.9],[24.05,0.3],[24.3,0.9],[24.6,1.33],[25.0,1.65],[25.3,1.85],[25.6,1.98],[25.9,1.2],[26.05,0.7],[26.1,0.2],[26.15,0.8],[26.3,0.86],[26.6,1.0],[27.0,1.33],[27.3,1.45],[27.7,1.7],[28,1.8]];
const R5p5_hi = [[18,2.16],[18.2,1.9],[18.45,1.95],[18.64,2.18],[18.93,1.8],[19.16,1.5],[19.35,1.5],[19.66,1.95],[20.2,1.78],[20.7,2.25],[21.15,1.9],[21.62,2.35],[21.75,2.1],[22.2,2.0],[22.68,2.35],[22.8,1.7],[23.0,1.56],[23.3,1.6],[23.55,1.75],[23.85,1.25],[24.05,0.9],[24.3,1.2],[24.6,1.5],[25.0,1.75],[25.6,2.1],[25.9,1.6],[26.1,1.1],[26.3,1.15],[26.6,1.25],[27.0,1.5],[27.7,1.9],[28,1.95]];
const R5p5_lo = [[18,2.1],[18.08,1.5],[18.15,1.13],[18.3,1.1],[18.45,1.5],[18.64,2.1],[18.7,1.5],[18.78,-0.2],[19.2,-0.2],[19.3,0.8],[19.45,1.4],[19.66,1.8],[20.2,1.6],[20.7,2.15],[20.82,1.38],[20.9,1.9],[21.05,1.55],[21.15,1.8],[21.62,2.25],[21.68,0.6],[21.72,1.8],[22.2,1.8],[22.68,2.2],[22.72,-0.2],[22.9,0.7],[23.0,-0.2],[23.05,0.6],[23.2,0.8],[23.5,1.3],[23.6,1.2],[23.8,0.5],[23.95,-0.2],[24.15,0.4],[24.6,1.2],[25.0,1.5],[25.6,1.85],[25.9,0.9],[26.1,-0.2],[26.2,0.7],[26.6,0.85],[27.0,1.2],[27.7,1.6],[28,1.7]];
const R5p5_obs = [[18.2,1.08],[18.25,1.2],[18.3,1.32],[18.35,1.43],[18.4,1.52],[18.45,1.62],[18.5,1.72],[18.54,1.83],
  [19.2,0.94],[19.25,0.98],[19.3,1.0],[19.35,1.04],[19.4,1.08],[19.57,1.27],[19.62,1.28],[19.67,1.27],
  [20.2,1.64],[20.25,1.68],[20.3,1.72],[20.35,1.76],[20.4,1.8],[20.45,1.84],[20.5,1.88],[20.55,1.92],[20.6,1.95],
  [21.2,1.87],[21.25,1.89],[21.3,1.92],[21.35,1.95],[21.4,1.98],[21.45,2.0],[21.5,2.2],
  [22.2,1.88],[22.25,1.92],[22.3,1.97],[22.35,2.02],[22.4,2.07],[22.45,2.12],[22.5,2.17],[22.55,2.22],[22.6,2.26],
  [23.22,1.8],[23.27,1.8],[23.5,1.65],
  [24.2,0.86],[24.25,0.94],[24.3,1.01],[24.35,1.08],[24.4,1.15],[24.45,1.22],[24.5,1.29],[24.55,1.36],[24.6,1.42],
  [25.2,1.8],[25.25,1.82],[25.3,1.85],[25.35,1.87],[25.4,1.9],[25.45,1.92],[25.5,1.94],[25.55,1.96],[25.6,1.98],
  [26.2,0.72],[26.25,0.77],[26.3,0.82],[26.35,0.87],[26.4,0.92],[26.45,0.97],[26.5,1.01],[26.55,1.06],[26.6,1.1],
  [27.2,0.95],[27.25,1.04],[27.3,1.13],[27.35,1.22],[27.4,1.3],[27.45,1.39],[27.5,1.48],[27.55,1.56],[27.6,1.65]];

const R6p0_model = [[18,0.48],[18.17,0.6],[18.34,1.36],[18.5,1.74],[18.6,2.11],[18.62,2.15],[18.68,0.54],[18.93,0.42],[19.16,0.54],[19.3,1.1],[19.45,1.5],[19.66,1.92],[20.2,1.6],[20.7,2.1],[21.15,1.3],[21.2,1.2],[21.4,1.7],[21.62,2.25],[21.72,2.0],[21.75,0.62],[22.4,0.65],[22.5,2.0],[22.55,2.1],[22.62,1.9],[22.7,0.62],[23.22,0.62],[23.4,1.6],[23.5,1.8],[23.6,1.78],[23.64,0.62],[24.03,0.62],[24.3,1.4],[24.55,2.0],[24.6,1.6],[24.63,0.62],[25.2,0.62],[25.35,1.5],[25.48,1.9],[25.55,1.8],[25.6,0.62],[26.25,0.62],[26.5,1.3],[26.7,1.78],[26.8,1.7],[26.85,0.62],[27.35,0.62],[27.45,1.8],[27.55,2.0],[27.6,1.7],[27.63,0.62],[28,0.62]];
const R6p0_mid = [[18,2.15],[18.06,1.8],[18.1,1.2],[18.2,1.0],[18.3,1.1],[18.45,1.6],[18.6,1.98],[18.75,1.5],[18.93,1.1],[19.16,0.86],[19.3,1.0],[19.66,1.92],[20.05,1.6],[20.15,0.75],[20.2,1.5],[20.7,2.24],[20.8,1.5],[20.85,2.0],[21.0,1.8],[21.1,1.2],[21.2,1.5],[21.55,2.1],[21.62,2.35],[21.68,1.7],[22.0,1.55],[22.3,1.78],[22.6,2.0],[22.68,2.1],[22.75,1.3],[23.0,0.85],[23.3,1.2],[23.5,1.4],[23.6,1.3],[23.85,0.6],[24.0,0.38],[24.3,0.9],[24.6,1.22],[25.0,1.46],[25.3,1.6],[25.6,1.75],[25.9,1.2],[26.05,0.99],[26.1,0.5],[26.15,1.0],[26.3,1.17],[26.6,1.2],[27.0,1.31],[27.3,1.4],[27.7,1.55],[28,1.64]];
const R6p0_hi = [[18,2.18],[18.1,2.0],[18.2,1.6],[18.45,1.85],[18.6,2.05],[18.75,1.74],[18.93,1.5],[19.16,1.25],[19.35,1.4],[19.66,1.98],[20.2,1.7],[20.7,2.3],[21.0,1.95],[21.15,1.7],[21.62,2.4],[21.75,2.0],[22.3,1.95],[22.68,2.2],[22.8,1.6],[23.0,1.3],[23.3,1.5],[23.55,1.6],[23.85,1.0],[24.0,0.85],[24.3,1.2],[24.6,1.45],[25.0,1.6],[25.6,1.9],[25.9,1.5],[26.1,1.25],[26.3,1.35],[26.6,1.4],[27.0,1.5],[27.7,1.72],[28,1.8]];
const R6p0_lo = [[18,2.1],[18.08,0.65],[18.12,-0.2],[18.25,0.3],[18.35,0.9],[18.6,1.9],[18.68,1.0],[18.72,-0.2],[19.2,-0.2],[19.3,0.6],[19.45,1.3],[19.66,1.85],[20.1,1.3],[20.18,0.4],[20.22,1.4],[20.7,2.15],[20.82,0.3],[20.9,1.7],[21.05,1.3],[21.12,0.8],[21.2,1.4],[21.62,2.3],[21.7,-0.2],[21.76,1.5],[22.3,1.6],[22.68,2.0],[22.72,-0.2],[22.9,0.5],[23.0,-0.2],[23.05,0.4],[23.3,0.8],[23.55,1.1],[23.7,0.6],[23.85,-0.2],[24.0,-0.2],[24.1,0.2],[24.6,1.0],[25.0,1.3],[25.6,1.6],[25.9,0.9],[26.1,0.3],[26.2,0.9],[26.6,1.05],[27.0,1.15],[27.7,1.4],[28,1.5]];
const R6p0_obs = [[18.2,0.98],[18.25,1.05],[18.3,1.12],[18.35,1.19],[18.4,1.26],[18.45,1.33],[18.5,1.41],[18.54,1.49],
  [19.2,0.8],[19.25,0.85],[19.3,0.9],[19.35,0.95],[19.4,1.0],[19.45,1.04],[19.5,1.08],[19.55,1.1],[19.6,1.06],[19.65,1.1],
  [20.2,1.42],[20.25,1.5],[20.3,1.58],[20.35,1.66],[20.4,1.74],[20.45,1.82],[20.5,1.9],[20.55,2.0],[20.62,2.2],
  [21.2,1.6],[21.25,1.63],[21.3,1.66],[21.35,1.7],[21.4,1.73],[21.45,1.76],[21.5,1.8],[21.55,2.15],[21.6,2.2],
  [22.2,1.78],[22.25,1.78],[22.3,1.79],[22.35,1.78],[22.4,1.8],[22.5,2.15],[22.55,2.15],[22.6,2.17],
  [23.28,1.78],[23.33,1.8],
  [24.2,0.7],[24.25,0.81],[24.3,0.92],[24.35,1.03],[24.4,1.14],[24.45,1.25],[24.5,1.35],[24.55,1.45],[24.6,1.55],
  [25.2,1.64],[25.25,1.68],[25.3,1.71],[25.35,1.75],[25.4,1.78],[25.45,1.82],[25.5,1.85],[25.55,1.89],[25.6,1.92],
  [26.2,0.75],[26.25,0.79],[26.3,0.83],[26.35,0.87],[26.4,0.91],[26.45,0.95],[26.5,0.99],[26.55,1.04],[26.6,1.08],
  [27.2,0.75],[27.25,0.85],[27.3,0.95],[27.35,1.05],[27.4,1.15],[27.45,1.25],[27.5,1.35],[27.55,1.45],[27.6,1.55]];

// E panel (symmetric scale, -1..1 spans the panel)
const E_hi = [[18,0],[18.06,0.13],[18.31,0.34],[18.34,0.38],[18.4,0.38],[18.41,0.08],[18.5,0.13],[18.69,0.21],[18.8,0.13],[18.99,0.08],[19.2,0.13],[19.57,0.25],[19.74,0.34],[19.9,0.38],[19.93,0.34],[19.99,0.21],[20.1,0.13],[20.15,0],[20.44,0],[20.73,0.17],[20.74,0.38],[20.9,0.38],[20.98,0.29],[21.3,0.13],[21.52,0.1],[21.6,0.25],[21.76,0.4],[22.0,0.3],[22.5,0.2],[23.0,0.15],[23.06,0.63],[23.4,0.88],[23.63,0.9],[23.75,0.6],[24.0,0.16],[24.2,0.35],[24.7,0.5],[25.2,0.65],[25.8,0.8],[25.95,1.1],[26.27,1.1],[26.28,0.72],[26.8,0.6],[27.36,0.4],[27.37,0.16],[27.6,0.3],[28,0.47]];
const E_mid = [[18,0],[18.17,-0.04],[18.31,0.21],[18.34,0],[18.69,0.04],[19.28,0],[19.86,0.08],[20.0,0.04],[20.15,-0.08],[20.44,-0.13],[20.73,-0.04],[20.75,0.17],[21.03,0.13],[21.32,-0.04],[21.5,-0.13],[21.8,0],[22.5,-0.05],[23.05,-0.1],[23.06,0.47],[23.6,0.5],[24.0,-0.16],[24.5,0.1],[25.8,0.4],[26.0,0.55],[26.27,0.6],[26.28,0.53],[27.36,0.22],[27.37,0],[28,0.28]];
const E_lo = [[18,0],[18.12,-0.13],[18.31,-0.04],[18.4,-0.13],[18.69,-0.21],[19.28,-0.21],[19.8,-0.13],[19.98,-0.13],[20.05,-0.21],[20.3,-0.34],[20.73,-0.29],[20.74,-0.04],[21.03,-0.08],[21.32,-0.25],[21.52,-0.38],[21.6,-0.2],[22.0,-0.25],[22.5,-0.28],[23.05,-0.32],[23.06,0.16],[23.5,0.1],[23.75,-0.2],[24.03,-0.38],[24.5,-0.1],[25.2,0.0],[25.8,0.06],[26.27,0.1],[26.28,0.25],[27.36,-0.1],[28,0.1]];
const E_reference = 0;

// A panel
const A_hi = [[18,4.57],[18.06,4.95],[18.31,5.14],[18.34,5.2],[18.5,4.95],[18.81,5.02],[18.82,5.6],[18.84,5.85],[19.0,5.72],[19.15,5.46],[19.3,5.14],[19.4,4.89],[19.5,4.95],[19.8,5.27],[19.95,5.02],[19.98,4.89],[20.2,4.83],[20.45,4.95],[20.55,5.21],[20.85,5.34],[21.03,5.14],[21.2,5.21],[21.37,4.95],[21.6,5.16],[21.8,5.16],[22.5,4.95],[23.1,4.69],[23.75,4.22],[24.0,4.4],[24.7,5.0],[25.5,4.95],[26.2,4.8],[26.25,5.25],[26.73,5.95],[27.2,4.92],[27.4,4.69],[28,4.92]];
const A_mid = [[18,4.57],[18.12,4.76],[18.31,4.83],[18.45,4.7],[18.81,4.83],[18.83,5.46],[18.9,5.4],[19.0,5.2],[19.15,5.14],[19.25,4.83],[19.6,4.76],[19.98,4.51],[20.2,4.44],[20.5,4.44],[20.55,4.7],[20.73,4.76],[21.03,4.76],[21.06,4.51],[21.32,4.44],[21.6,4.69],[22.0,4.6],[22.5,4.5],[23.1,4.36],[23.75,3.75],[24.0,3.95],[24.7,4.7],[25.5,4.6],[26.2,4.55],[26.25,4.9],[26.73,5.16],[27.2,4.36],[27.4,4.36],[28,4.69]];
const A_lo = [[18,4.57],[18.12,4.51],[18.31,4.44],[18.5,4.31],[18.81,4.16],[18.82,4.95],[18.9,4.89],[19.0,4.7],[19.3,4.44],[19.57,4.31],[19.86,4.06],[19.98,3.87],[20.15,4.0],[20.44,4.0],[20.5,4.38],[20.73,4.25],[21.05,3.93],[21.08,4.25],[21.32,4.19],[21.6,4.45],[22.0,4.3],[22.5,4.1],[23.1,3.9],[23.4,3.75],[23.75,3.28],[24.0,3.5],[24.7,4.2],[25.5,4.1],[26.2,4.0],[26.25,4.4],[26.73,4.69],[27.2,4.0],[27.3,3.66],[27.5,3.8],[28,4.22]];
const A_reference = 4.38;

const fluxPanels = [
  {name: 'R2p0', range: [2, 4], model: R2p0_model, hi: R2p0_hi, mid: R2p0_mid, lo: R2p0_lo, obs: R2p0_obs},
  {name: 'R2p5', range: [2, 4], model: R2p5_model, hi: R2p5_hi, mid: R2p5_mid, lo: R2p5_lo, obs: R2p5_obs},
  {name: 'R3p0', range: [2, 4], model: R3p0_model, hi: R3p0_hi, mid: R3p0_mid, lo: R3p0_lo, obs: R3p0_obs},
  {name: 'R3p5', range: [2, 4], model: R3p5_model, hi: R3p5_hi, mid: R3p5_mid, lo: R3p5_lo, obs: R3p5_obs},
  {name: 'R4p0', range: [1, 3], model: R4p0_model, hi: R4p0_hi, mid: R4p0_mid, lo: R4p0_lo, obs: R4p0_obs},
  {name: 'R4p5', range: [1, 3], model: R4p5_model, hi: R4p5_hi, mid: R4p5_mid, lo: R4p5_lo, obs: R4p5_obs},
  {name: 'R5p0', range: [1, 3], model: R5p0_model, hi: R5p0_hi, mid: R5p0_mid, lo: R5p0_lo, obs: R5p0_obs},
  {name: 'R5p5', range: [0, 3], model: R5p5_model, hi: R5p5_hi, mid: R5p5_mid, lo: R5p5_lo, obs: R5p5_obs},
  {name: 'R6p0', range: [0, 3], model: R6p0_model, hi: R6p0_hi, mid: R6p0_mid, lo: R6p0_lo, obs: R6p0_obs}
];

const FONT = 'Liberation Sans, Arial, Helvetica, sans-serif';
const BLUE = '#0a0aff', RED = '#ff0000';
const gridLeft = 162, gridRight = 1693, gridTop = 92.5, panelH = 79.2;
const nPanels = fluxPanels.length + 2;

// label styles: top label hangs below its tick, bottom label sits above it (IDL look)
const labelRich = {
  bt: {fontSize: 24, fontFamily: FONT, color: '#000', padding: [25, 0, 0, 0]},
  st: {fontSize: 16, fontFamily: FONT, color: '#000', padding: [7, 0, 0, 0]},
  bm: {fontSize: 24, fontFamily: FONT, color: '#000'},
  sm: {fontSize: 16, fontFamily: FONT, color: '#000', padding: [0, 0, 18, 0]},
  bb: {fontSize: 24, fontFamily: FONT, color: '#000', padding: [0, 0, 25, 0]},
  sb: {fontSize: 16, fontFamily: FONT, color: '#000', padding: [0, 0, 43, 0]},
  at: {fontSize: 26, fontFamily: FONT, color: '#000', padding: [36, 0, 0, 0]},
  ab: {fontSize: 26, fontFamily: FONT, color: '#000', padding: [0, 0, 14, 0]}
};
function near(a, b) { return Math.abs(a - b) < 1e-6; }
function sup(pos, v) { return '{b' + pos + '|10}{s' + pos + '|' + Math.round(v) + '}'; }

// tick marks drawn on both sides of each panel through the axis scale
function logTicks(lo, hi) {
  const t = [];
  for (let k = lo; k < hi; k++) {
    if (k > lo) t.push([dayMin, k, 30]);
    for (let m = 2; m <= 9; m++) t.push([dayMin, k + Math.log10(m), 12]);
  }
  return t;
}
function linTicks(lo, hi, step, majors) {
  const t = [];
  const n = Math.round((hi - lo) / step);
  for (let i = 1; i < n; i++) {
    const v = lo + i * step;
    t.push([dayMin, v, majors.some(m => near(m, v)) ? 30 : 11]);
  }
  return t;
}
function renderTick(params, api) {
  const v = api.value(1), len = api.value(2);
  const pL = api.coord([dayMin, v]);
  const pR = api.coord([dayMax, v]);
  const st = {stroke: '#000', lineWidth: 1.3};
  return {type: 'group', children: [
    {type: 'line', shape: {x1: pL[0], y1: pL[1], x2: pL[0] + len, y2: pL[1]}, style: st},
    {type: 'line', shape: {x1: pR[0] - len, y1: pR[1], x2: pR[0], y2: pR[1]}, style: st}
  ]};
}

const grid = [], xAxis = [], yAxis = [], series = [];
for (let i = 0; i < nPanels; i++) {
  const last = i === nPanels - 1;
  grid.push({left: gridLeft, top: gridTop + i * panelH, width: gridRight - gridLeft, height: panelH,
    show: true, borderColor: '#000', borderWidth: 1.5, backgroundColor: 'transparent'});
  const tickCfg = {inside: true, length: 8, lineStyle: {color: '#000', width: 1}};
  const minorCfg = {show: true, splitNumber: 4, length: 4, lineStyle: {color: '#000', width: 1}};
  xAxis.push({gridIndex: i, type: 'value', min: dayMin, max: dayMax, interval: 2, position: 'bottom',
    axisLine: {show: false}, splitLine: {show: false}, axisTick: tickCfg, minorTick: minorCfg,
    axisLabel: {show: last, margin: 30, fontSize: 28, color: '#000', fontFamily: FONT},
    name: last ? 'Day of June 2015' : '', nameLocation: 'middle', nameGap: 78,
    nameTextStyle: {fontSize: 29, color: '#000', fontFamily: FONT}});
  xAxis.push({gridIndex: i, type: 'value', min: dayMin, max: dayMax, interval: 2, position: 'top',
    axisLine: {show: false}, splitLine: {show: false}, axisTick: tickCfg, minorTick: minorCfg,
    axisLabel: {show: false}});
}

const nameStyle = {fontSize: 30, color: '#000', fontFamily: FONT};
const lineBase = {type: 'line', showSymbol: false, symbol: 'none', animation: false};
const quietAxis = {position: 'left', offset: 0, axisLine: {show: false}, axisTick: {show: false}, splitLine: {show: false}};

// each grid owns two left y axes: 2i carries the data and inner decade labels,
// 2i+1 only shows the end labels (kept apart so neither set hides the other)
fluxPanels.forEach((p, i) => {
  const [lo, hi] = p.range;
  yAxis.push(Object.assign({gridIndex: i, type: 'value', min: lo, max: hi, interval: 1,
    axisLabel: {margin: 12, showMinLabel: false, showMaxLabel: false, rich: labelRich,
      formatter: v => (near(v, lo) || near(v, hi)) ? '' : sup('m', v)},
    name: p.name, nameLocation: 'middle', nameGap: 88, nameRotate: 90, nameTextStyle: nameStyle}, quietAxis));
  yAxis.push(Object.assign({gridIndex: i, type: 'value', min: lo, max: hi, interval: hi - lo,
    axisLabel: {margin: 12, showMinLabel: true, showMaxLabel: true, rich: labelRich,
      formatter: v => near(v, hi) ? sup('t', v) : (near(v, lo) ? sup('b', v) : '')}}, quietAxis));
  const xi = 2 * i, yi = 2 * i;
  series.push({type: 'custom', xAxisIndex: xi, yAxisIndex: yi, renderItem: renderTick, data: logTicks(lo, hi),
    silent: true, clip: false, z: 6, encode: {x: 0, y: 1}});
  series.push(Object.assign({}, lineBase, {name: 'Model', xAxisIndex: xi, yAxisIndex: yi, data: p.model,
    color: BLUE, lineStyle: {color: BLUE, width: 1.8}, z: 3}));
  [p.hi, p.mid, p.lo].forEach(d => {
    series.push(Object.assign({}, lineBase, {name: 'Assimilation', xAxisIndex: xi, yAxisIndex: yi, data: d,
      color: RED, lineStyle: {color: RED, width: 1.6}, z: 4}));
  });
  series.push({type: 'scatter', name: 'Observations', xAxisIndex: xi, yAxisIndex: yi, data: p.obs,
    symbol: 'diamond', symbolSize: [8, 11], animation: false,
    itemStyle: {color: '#fff', borderColor: '#000', borderWidth: 2}, z: 5});
});

// E panel
const iE = fluxPanels.length, yE = yAxis.length;
yAxis.push(Object.assign({gridIndex: iE, type: 'value', min: -1, max: 1, interval: 0.1,
  axisLabel: {margin: 12, rich: labelRich, formatter: function (v) {
    if (near(v, 0.6)) return '{bm|10}{sm|4}';
    if (near(v, -0.8)) return '{bm|-10}{sm|-4}';
    return '';
  }},
  name: 'E', nameLocation: 'middle', nameGap: 100, nameRotate: 90, nameTextStyle: nameStyle}, quietAxis));
series.push({type: 'custom', xAxisIndex: 2 * iE, yAxisIndex: yE, renderItem: renderTick,
  data: linTicks(-1, 1, 0.1, [-0.5, 0, 0.5]), silent: true, clip: false, z: 6, encode: {x: 0, y: 1}});
series.push(Object.assign({}, lineBase, {name: 'E reference', xAxisIndex: 2 * iE, yAxisIndex: yE,
  data: [[dayMin, E_reference], [dayMax, E_reference]], lineStyle: {color: '#000', width: 1.6, type: [4, 4]}, z: 2}));
[E_hi, E_mid, E_lo].forEach(d => {
  series.push(Object.assign({}, lineBase, {name: 'Assimilation', xAxisIndex: 2 * iE, yAxisIndex: yE, data: d,
    color: RED, lineStyle: {color: RED, width: 1.6}, z: 4}));
});

// A panel
const iA = fluxPanels.length + 1, yA = yAxis.length;
yAxis.push(Object.assign({gridIndex: iA, type: 'value', min: 3, max: 6, interval: 3,
  axisLabel: {margin: 12, showMinLabel: true, showMaxLabel: true, rich: labelRich, formatter: function (v) {
    return near(v, 6) ? '{at|6}' : (near(v, 3) ? '{ab|3}' : '');
  }},
  name: 'A', nameLocation: 'middle', nameGap: 60, nameRotate: 90, nameTextStyle: nameStyle}, quietAxis));
series.push({type: 'custom', xAxisIndex: 2 * iA, yAxisIndex: yA, renderItem: renderTick,
  data: linTicks(3, 6, 0.1, [4, 5]), silent: true, clip: false, z: 6, encode: {x: 0, y: 1}});
series.push(Object.assign({}, lineBase, {name: 'A reference', xAxisIndex: 2 * iA, yAxisIndex: yA,
  data: [[dayMin, A_reference], [dayMax, A_reference]], lineStyle: {color: '#000', width: 1.6, type: [4, 4]}, z: 2}));
[A_hi, A_mid, A_lo].forEach(d => {
  series.push(Object.assign({}, lineBase, {name: 'Assimilation', xAxisIndex: 2 * iA, yAxisIndex: yA, data: d,
    color: RED, lineStyle: {color: RED, width: 1.6}, z: 4}));
});

const chart = echarts.init(document.getElementById('chart'), null, {renderer: 'canvas'});
chart.setOption({
  animation: false,
  backgroundColor: '#fff',
  textStyle: {fontFamily: FONT},
  legend: {
    left: 300, top: 35, itemWidth: 130, itemHeight: 6, itemGap: 51, icon: 'rect', selectedMode: false,
    formatter: '{t|{name}}',
    textStyle: {fontSize: 38, fontFamily: FONT, rich: {t: {fontSize: 38, fontFamily: FONT, padding: [0, 0, 0, 15]}}},
    data: [
      {name: 'Observations', itemStyle: {color: '#000', borderWidth: 0}, textStyle: {color: '#000'}},
      {name: 'Model', itemStyle: {color: BLUE}, textStyle: {color: BLUE}},
      {name: 'Assimilation', itemStyle: {color: RED}, textStyle: {color: RED}}
    ]
  },
  grid: grid,
  xAxis: xAxis,
  yAxis: yAxis,
  series: series,
  graphic: [
    {type: 'rect', silent: true, z: 100, shape: {x: 12, y: 8, width: 1736, height: 1074, r: 4},
      style: {fill: 'none', stroke: '#000', lineWidth: 6}},
    {type: 'line', silent: true, shape: {x1: 1834, y1: 53, x2: 1834, y2: 630}, style: {stroke: '#000', lineWidth: 7}},
    {type: 'polygon', silent: true, shape: {points: [[1816, 624], [1852, 624], [1834, 662]]}, style: {fill: '#000'}},
    {type: 'text', silent: true, x: 1900, y: 342, rotation: Math.PI / 2,
      style: {text: 'Distance from Earth', fontSize: 48, fontFamily: FONT, fill: '#000', align: 'center', verticalAlign: 'middle'}}
  ]
});
</script>
</body>
</html>
